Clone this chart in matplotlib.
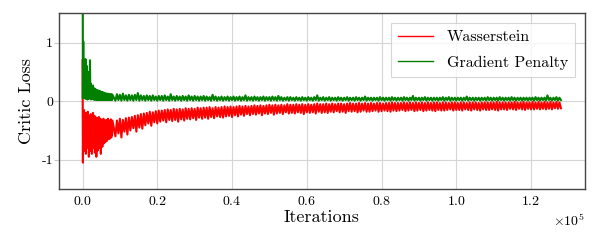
import numpy as np
import matplotlib
matplotlib.use("Agg")
import matplotlib.pyplot as plt
from matplotlib.ticker import ScalarFormatter

plt.rcParams["font.family"] = "serif"
plt.rcParams["font.serif"] = ["cmr10"]
plt.rcParams["mathtext.fontset"] = "cm"
plt.rcParams["axes.formatter.use_mathtext"] = True
plt.rcParams["axes.unicode_minus"] = False

# first 8000 iterations, one value every 100 iterations
red_early = [
    0.7, -1.05, -0.2, -0.75, -0.15, -0.85, -0.3, -0.65, -0.2, -0.9,
    -0.25, -0.7, -0.3, -0.8, -0.18, -0.75, -0.35, -0.95, -0.25, -0.6,
    -0.3, -0.85, -0.22, -0.7, -0.35, -0.9, -0.28, -0.65, -0.2, -0.8,
    -0.32, -0.75, -0.25, -0.88, -0.3, -0.7, -0.36, -0.95, -0.28, -0.72,
    -0.3, -0.84, -0.35, -0.68, -0.27, -0.8, -0.38, -0.75, -0.3, -0.9,
    -0.35, -0.7, -0.32, -0.78, -0.38, -0.66, -0.3, -0.72, -0.36, -0.64,
    -0.33, -0.7, -0.38, -0.62, -0.32, -0.68, -0.36, -0.6, -0.3, -0.65,
    -0.35, -0.6, -0.33, -0.64, -0.36, -0.58, -0.31, -0.62, -0.34, -0.57,
    -0.33,
]
green_early = [
    4.0, 0.05, 1.02, 0.1, 0.7, 0.05, 0.55, 0.08, 0.72, 0.04,
    0.45, 0.06, 0.6, 0.03, 0.35, 0.05, 0.5, 0.04, 0.3, 0.06,
    0.7, 0.05, 0.3, 0.03, 0.25, 0.04, 0.22, 0.05, 0.27, 0.03,
    0.2, 0.04, 0.22, 0.02, 0.18, 0.04, 0.2, 0.03, 0.17, 0.02,
    0.19, 0.03, 0.16, 0.02, 0.18, 0.03, 0.15, 0.02, 0.17, 0.03,
    0.14, 0.02, 0.16, 0.03, 0.13, 0.02, 0.15, 0.03, 0.12, 0.02,
    0.14, 0.03, 0.12, 0.02, 0.13, 0.03, 0.11, 0.02, 0.13, 0.03,
    0.12, 0.02, 0.11, 0.03, 0.12, 0.02, 0.11, 0.03, 0.12, 0.02,
    0.11,
]

# from 8800 up to 128000 iterations, evenly spaced (~400 iterations apart)
red_late = [
    -0.6, -0.33, -0.55, -0.3, -0.62, -0.32, -0.52, -0.29, -0.57, -0.28,
    -0.5, -0.27, -0.46, -0.25, -0.52, -0.24, -0.45, -0.22, -0.47, -0.21,
    -0.41, -0.2, -0.38, -0.18, -0.42, -0.19, -0.36, -0.17, -0.38, -0.16,
    -0.35, -0.16, -0.33, -0.15, -0.36, -0.14, -0.32, -0.15, -0.34, -0.13,
    -0.32, -0.14, -0.35, -0.13, -0.31, -0.14, -0.33, -0.12, -0.3, -0.13,
    -0.31, -0.12, -0.29, -0.13, -0.32, -0.11, -0.28, -0.12, -0.3, -0.11,
    -0.28, -0.11, -0.3, -0.1, -0.27, -0.12, -0.29, -0.1, -0.26, -0.11,
    -0.27, -0.1, -0.28, -0.09, -0.26, -0.1, -0.25, -0.09, -0.27, -0.1,
    -0.24, -0.09, -0.26, -0.08, -0.23, -0.09, -0.25, -0.08, -0.22, -0.09,
    -0.24, -0.08, -0.22, -0.07, -0.23, -0.08, -0.21, -0.07, -0.24, -0.08,
    -0.21, -0.07, -0.22, -0.06, -0.2, -0.07, -0.23, -0.06, -0.21, -0.07,
    -0.2, -0.06, -0.22, -0.07, -0.19, -0.05, -0.21, -0.06, -0.2, -0.06,
    -0.21, -0.05, -0.19, -0.06, -0.2, -0.05, -0.22, -0.06, -0.19, -0.05,
    -0.2, -0.06, -0.19, -0.05, -0.21, -0.04, -0.18, -0.05, -0.2, -0.05,
    -0.19, -0.04, -0.2, -0.05, -0.18, -0.04, -0.19, -0.05, -0.17, -0.04,
    -0.19, -0.04, -0.18, -0.05, -0.2, -0.04, -0.17, -0.03, -0.18, -0.04,
    -0.17, -0.04, -0.19, -0.03, -0.18, -0.04, -0.16, -0.03, -0.18, -0.04,
    -0.18, -0.03, -0.17, -0.04, -0.16, -0.03, -0.18, -0.03, -0.17, -0.04,
    -0.16, -0.03, -0.17, -0.03, -0.18, -0.02, -0.16, -0.03, -0.17, -0.03,
    -0.16, -0.03, -0.15, -0.02, -0.17, -0.03, -0.16, -0.02, -0.15, -0.03,
    -0.17, -0.02, -0.16, -0.03, -0.15, -0.02, -0.17, -0.03, -0.16, -0.02,
    -0.15, -0.03, -0.16, -0.02, -0.17, -0.02, -0.15, -0.03, -0.16, -0.02,
    -0.16, -0.02, -0.15, -0.03, -0.14, -0.02, -0.16, -0.02, -0.15, -0.03,
    -0.15, -0.02, -0.16, -0.02, -0.14, -0.03, -0.15, -0.02, -0.16, -0.02,
    -0.14, -0.02, -0.15, -0.03, -0.16, -0.02, -0.14, -0.02, -0.15, -0.02,
    -0.15, -0.02, -0.14, -0.02, -0.15, -0.01, -0.16, -0.02, -0.14, -0.02,
    -0.14, -0.02, -0.15, -0.02, -0.13, -0.02, -0.14, -0.01, -0.15, -0.02,
    -0.13, -0.02, -0.14, -0.01, -0.15, -0.02, -0.13, -0.02, -0.14, -0.01,
    -0.14, -0.02, -0.13, -0.01, -0.14, -0.02, -0.13, -0.01, -0.14, -0.02,
    -0.13, -0.01, -0.14, -0.02, -0.12, -0.01, -0.13, -0.02, -0.12,
]
green_late = [
    0.01, 0.12, 0.02, 0.11, 0.01, 0.13, 0.02, 0.1, 0.01, 0.11,
    0.02, 0.1, 0.01, 0.11, 0.02, 0.14, 0.01, 0.1, 0.02, 0.09,
    0.01, 0.1, 0.02, 0.09, 0.01, 0.1, 0.02, 0.08, 0.01, 0.09,
    0.02, 0.09, 0.01, 0.1, 0.02, 0.08, 0.01, 0.12, 0.02, 0.08,
    0.01, 0.09, 0.02, 0.08, 0.01, 0.09, 0.02, 0.08, 0.01, 0.1,
    0.02, 0.08, 0.01, 0.09, 0.02, 0.08, 0.01, 0.08, 0.02, 0.09,
    0.01, 0.08, 0.02, 0.07, 0.01, 0.11, 0.02, 0.08, 0.01, 0.07,
    0.02, 0.08, 0.01, 0.07, 0.02, 0.08, 0.01, 0.07, 0.02, 0.08,
    0.01, 0.07, 0.02, 0.08, 0.01, 0.07, 0.02, 0.1, 0.01, 0.07,
    0.02, 0.07, 0.01, 0.08, 0.02, 0.07, 0.01, 0.07, 0.02, 0.08,
    0.01, 0.07, 0.02, 0.07, 0.01, 0.08, 0.02, 0.07, 0.01, 0.09,
    0.02, 0.07, 0.01, 0.06, 0.02, 0.07, 0.01, 0.07, 0.02, 0.06,
    0.01, 0.07, 0.02, 0.06, 0.01, 0.07, 0.02, 0.06, 0.01, 0.07,
    0.02, 0.06, 0.01, 0.07, 0.02, 0.1, 0.01, 0.06, 0.02, 0.07,
    0.01, 0.06, 0.02, 0.07, 0.01, 0.06, 0.02, 0.06, 0.01, 0.07,
    0.02, 0.06, 0.01, 0.06, 0.02, 0.07, 0.01, 0.06, 0.02, 0.06,
    0.01, 0.07, 0.02, 0.06, 0.01, 0.06, 0.02, 0.08, 0.01, 0.06,
    0.02, 0.06, 0.01, 0.06, 0.02, 0.06, 0.01, 0.07, 0.02, 0.06,
    0.01, 0.06, 0.02, 0.06, 0.01, 0.07, 0.02, 0.06, 0.01, 0.06,
    0.02, 0.06, 0.01, 0.07, 0.02, 0.06, 0.01, 0.06, 0.02, 0.09,
    0.01, 0.06, 0.02, 0.06, 0.01, 0.06, 0.02, 0.07, 0.01, 0.06,
    0.02, 0.06, 0.01, 0.06, 0.02, 0.06, 0.01, 0.06, 0.02, 0.07,
    0.01, 0.06, 0.02, 0.07, 0.01, 0.06, 0.02, 0.06, 0.01, 0.06,
    0.02, 0.06, 0.01, 0.06, 0.02, 0.08, 0.01, 0.06, 0.02, 0.06,
    0.01, 0.06, 0.02, 0.06, 0.01, 0.06, 0.02, 0.06, 0.01, 0.07,
    0.02, 0.06, 0.01, 0.06, 0.02, 0.06, 0.01, 0.07, 0.02, 0.06,
    0.01, 0.06, 0.02, 0.06, 0.01, 0.07, 0.02, 0.06, 0.01, 0.06,
    0.02, 0.06, 0.01, 0.06, 0.02, 0.06, 0.01, 0.06, 0.02, 0.06,
    0.01, 0.07, 0.02, 0.06, 0.01, 0.06, 0.02, 0.06, 0.01, 0.1,
    0.02, 0.06, 0.01, 0.06, 0.02, 0.07, 0.01, 0.06, 0.02,
]

EARLY_STEP = 100
LATE_START = 8800
LAST_ITER = 128000


def iterations(early, late):
    x_early = np.arange(len(early)) * EARLY_STEP
    x_late = np.linspace(LATE_START, LAST_ITER, len(late))
    return np.concatenate([x_early, x_late])


def main() -> int:
    fig = plt.figure(figsize=(5.98, 2.41), dpi=100)
    ax = fig.add_axes([0.098, 0.216, 0.88, 0.728])

    ax.plot(iterations(red_early, red_late), red_early + red_late,
            color="red", lw=1.5, label="Wasserstein")
    ax.plot(iterations(green_early, green_late), green_early + green_late,
            color="green", lw=1.5, label="Gradient Penalty")

    ax.set_ylim(-1.5, 1.5)
    ax.set_yticks([-1, 0, 1])
    # plain text y labels, so the minus is the short cmr10 hyphen
    ax.yaxis.set_major_formatter(ScalarFormatter(useMathText=False))
    ax.ticklabel_format(style="sci", axis="x", scilimits=(0, 0))
    ax.set_xlabel("Iterations", fontsize=13, labelpad=1)
    ax.set_ylabel("Critic Loss", fontsize=13, labelpad=5.5)
    ax.tick_params(labelsize=10)
    ax.tick_params(axis="y", length=3.5, color="#c8c8c8", pad=0.5)
    ax.tick_params(axis="x", length=0, pad=4.5)
    ax.xaxis.get_offset_text().set_fontsize(10)
    ax.grid(True, color="#d5d5d5", lw=0.8)
    ax.set_axisbelow(True)
    for spine in ax.spines.values():
        spine.set_color("#444444")
        spine.set_linewidth(1.0)

    leg = ax.legend(loc="upper right", fontsize=11.5, fancybox=False,
                    handlelength=2.2, handletextpad=0.85, borderpad=0.45,
                    labelspacing=0.7, borderaxespad=0.6)
    for line in leg.get_lines():
        line.set_linewidth(1.0)
    leg.get_frame().set_edgecolor("#cccccc")
    leg.get_frame().set_linewidth(0.8)

    fig.savefig("out.png", dpi=100)
    plt.close(fig)
    return 0


if __name__ == "__main__":
    raise SystemExit(main())
